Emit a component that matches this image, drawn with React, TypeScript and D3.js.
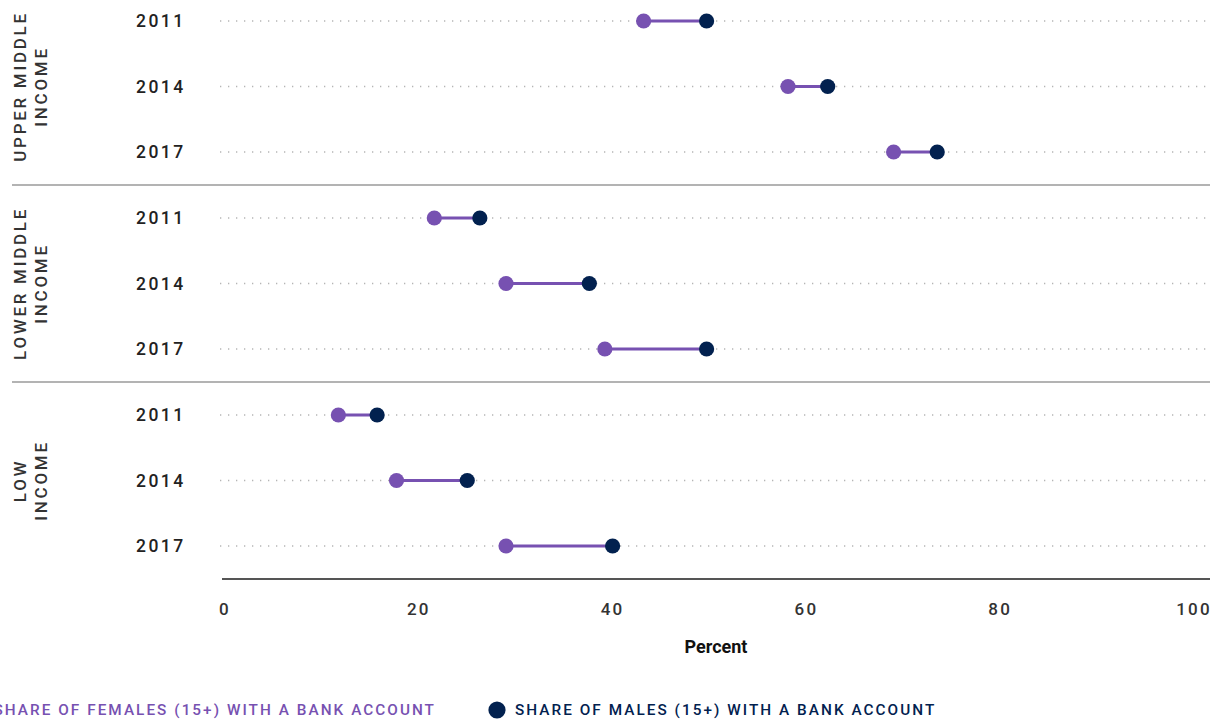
import React from "react";
import * as d3 from "d3";

const groupNames = ["UPPER MIDDLE INCOME", "LOWER MIDDLE INCOME", "LOW INCOME"];
const groupLines = [["UPPER MIDDLE", "INCOME"], ["LOWER MIDDLE", "INCOME"], ["LOW", "INCOME"]];
const years = ["2011", "2014", "2017"];
const femaleValues = [
  [43.2, 58.1, 69.0],
  [21.6, 29.0, 39.2],
  [11.7, 17.7, 29.0],
];
const maleValues = [
  [49.7, 62.2, 73.5],
  [26.3, 37.6, 49.7],
  [15.7, 25.0, 40.0],
];
const xTicks = [0, 20, 40, 60, 80, 100];
const xLabel = "Percent";
const legendFemale = "SHARE OF FEMALES (15+) WITH A BANK ACCOUNT";
const legendMale = "SHARE OF MALES (15+) WITH A BANK ACCOUNT";

const W = 1220;
const H = 719;
const PURPLE = "#7751b1";
const NAVY = "#02214f";
const FONT = "Roboto, 'Noto Sans', sans-serif";

export default function App() {
  const x = d3.scaleLinear().domain([0, 100]).range([225, 1194]);
  const yGroup = d3.scaleBand<string>().domain(groupNames).range([-12, 579]);
  const yInner = d3.scalePoint<string>().domain(years).range([33, 164]);
  const bw = yGroup.bandwidth();

  return (
    <svg
      width={W}
      height={H}
      style={{ position: "absolute", left: 0, top: 0, display: "block", background: "#fff" }}
      fontFamily={FONT}
    >
      {groupNames.map((g, gi) => {
        const top = yGroup(g)!;
        return (
          <g key={g}>
            {years.map((yr, yi) => {
              const cy = top + yInner(yr)!;
              const f = femaleValues[gi][yi];
              const m = maleValues[gi][yi];
              return (
                <g key={yr}>
                  <line
                    x1={220}
                    x2={1210}
                    y1={cy}
                    y2={cy}
                    stroke="#b5b5b5"
                    strokeWidth={1.3}
                    strokeDasharray="1.3 6.7"
                  />
                  <text
                    x={185.5}
                    y={cy}
                    textAnchor="end"
                    dominantBaseline="central"
                    fontSize={17.5}
                    fontWeight={500}
                    letterSpacing={2.4}
                    fill="#222"
                  >
                    {yr}
                  </text>
                  <line x1={x(f)} x2={x(m)} y1={cy} y2={cy} stroke={PURPLE} strokeWidth={3.2} />
                  <circle cx={x(f)} cy={cy} r={7.6} fill={PURPLE} />
                  <circle cx={x(m)} cy={cy} r={7.6} fill={NAVY} />
                </g>
              );
            })}
            <text
              transform={`translate(25.5, ${top + bw / 2}) rotate(-90)`}
              textAnchor="middle"
              fontSize={17}
              fontWeight={500}
              letterSpacing={2.7}
              fill="#333"
            >
              {groupLines[gi].map((ln, li) => (
                <tspan key={li} x={0} y={li * 21.5}>
                  {ln}
                </tspan>
              ))}
            </text>
            {gi < groupNames.length - 1 && (
              <line x1={12} x2={1210} y1={top + bw} y2={top + bw} stroke="#9a9a9a" strokeWidth={1.3} />
            )}
          </g>
        );
      })}

      <line x1={222} x2={1210} y1={579} y2={579} stroke="#555" strokeWidth={2} />
      {xTicks.map((t) => (
        <text
          key={t}
          x={x(t)}
          y={609}
          textAnchor="middle"
          dominantBaseline="central"
          fontSize={17}
          fontWeight={500}
          letterSpacing={2.2}
          fill="#333"
        >
          {t}
        </text>
      ))}
      <text x={716} y={646} textAnchor="middle" dominantBaseline="central" fontSize={18} fontWeight={700} fill="#111">
        {xLabel}
      </text>

      <text
        x={436}
        y={710}
        textAnchor="end"
        dominantBaseline="central"
        fontSize={15.3}
        fontWeight={500}
        letterSpacing={2.05}
        fill={PURPLE}
      >
        {legendFemale}
      </text>
      <circle cx={-33} cy={710} r={8.6} fill={PURPLE} />
      <circle cx={497} cy={710} r={8.6} fill={NAVY} />
      <text
        x={515}
        y={710}
        dominantBaseline="central"
        fontSize={15.3}
        fontWeight={500}
        letterSpacing={2.05}
        fill={NAVY}
      >
        {legendMale}
      </text>
    </svg>
  );
}
